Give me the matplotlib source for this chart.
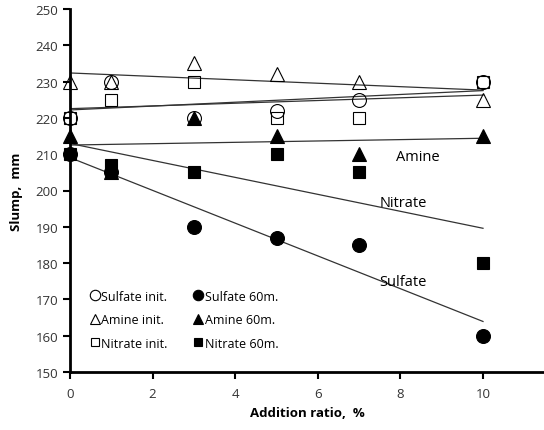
import numpy as np
import matplotlib
matplotlib.use("Agg")
import matplotlib.pyplot as plt

x = [0, 1, 3, 5, 7, 10]
sulfate_init = [220, 230, 220, 222, 225, 230]
sulfate_60 = [210, 205, 190, 187, 185, 160]
amine_init = [230, 230, 235, 232, 230, 225]
amine_60 = [215, 205, 220, 215, 210, 215]
nitrate_init = [220, 225, 230, 220, 220, 230]
nitrate_60 = [210, 207, 205, 210, 205, 180]

plt.rcParams['font.family'] = ['Open Sans', 'DejaVu Sans']
fig = plt.figure(figsize=(5.44, 4.31), dpi=100)
ax = fig.add_axes([70/544, 1-373/431, 1-70/544, (373-10)/431])

series = [
    ("Sulfate init.", sulfate_init, 'o', 'none', 10),
    ("Sulfate 60m.", sulfate_60, 'o', 'black', 10),
    ("Amine init.", amine_init, '^', 'none', 10.5),
    ("Amine 60m.", amine_60, '^', 'black', 10.5),
    ("Nitrate init.", nitrate_init, 's', 'none', 8.5),
    ("Nitrate 60m.", nitrate_60, 's', 'black', 8.5),
]
xa = np.array(x, dtype=float)
handles = []
for label, y, m, fc, ms in series:
    h, = ax.plot(xa, y, linestyle='none', marker=m, markerfacecolor=fc,
                 markeredgecolor='black', markersize=ms, markeredgewidth=0.8,
                 label=label, zorder=3, clip_on=False)
    handles.append(h)
    k, b = np.polyfit(xa, y, 1)
    xx = np.array([0, 10])
    ax.plot(xx, k*xx + b, color='#333333', lw=0.9, zorder=2)

ax.text(7.9, 209.5, "Amine", fontsize=10.5, va='center', ha='left')
ax.text(7.5, 196.8, "Nitrate", fontsize=10.5, va='center', ha='left')
ax.text(7.5, 175, "Sulfate", fontsize=10.5, va='center', ha='left')

order = [0, 2, 4, 1, 3, 5]
leg = ax.legend([handles[i] for i in order], [series[i][0] for i in order],
                ncol=2, loc='lower left', bbox_to_anchor=(0.015, 0.03),
                frameon=False, fontsize=9, handletextpad=0.05,
                handlelength=1.0, columnspacing=1.9, labelspacing=0.85,
                markerscale=0.75)

ax.set_xlim(0, (544-70)/41.3)
ax.set_ylim(150, 250)
ax.set_xticks([0, 2, 4, 6, 8, 10])
ax.set_yticks(range(150, 251, 10))
ax.spines['top'].set_visible(False)
ax.spines['right'].set_visible(False)
ax.spines['left'].set_linewidth(2)
ax.spines['bottom'].set_linewidth(2)
ax.tick_params(axis='both', direction='out', width=1.5, length=5,
               labelsize=9.5, labelcolor='#333333')
ax.tick_params(axis='x', pad=6)
ax.set_xlabel("Addition ratio,  %", fontsize=9.5, fontweight='bold')
ax.set_ylabel("Slump,  mm", fontsize=9.5, fontweight='bold')
ax.yaxis.set_label_coords(-0.10, 0.5)
fig.savefig("out.png", dpi=100)
